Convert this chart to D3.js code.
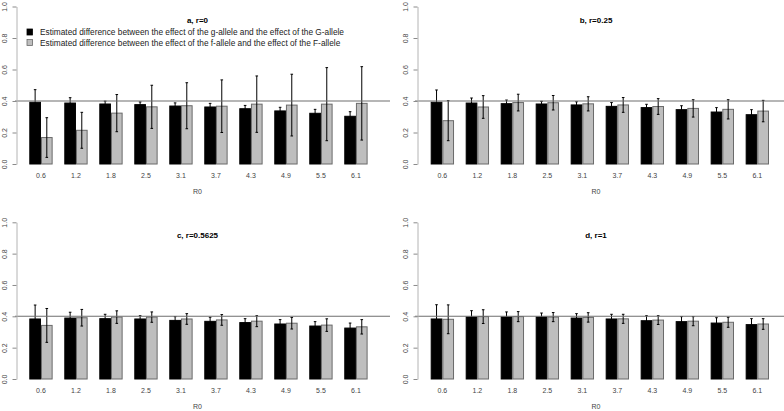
<!DOCTYPE html>
<html>
<head>
<meta charset="utf-8">
<script src="https://cdn.jsdelivr.net/npm/d3@7"></script>
<style>
  html, body { margin: 0; padding: 0; background: #fff; }
  svg { display: block; font-family: "Liberation Sans", Arial, sans-serif; }
</style>
</head>
<body>
<svg id="chart" width="784" height="411"></svg>
<script>
// ---------------- data ----------------
const categories = ["0.6","1.2","1.8","2.5","3.1","3.7","4.3","4.9","5.5","6.1"];
const seriesKeys = ["g", "f"];
const legendLabels = [
  "Estimated difference between the effect of the g-allele and the effect of the G-allele",
  "Estimated difference between the effect of the f-allele and the effect of the F-allele"
];
const yTicks = [0, 0.2, 0.4, 0.6, 0.8, 1.0];
const refValue = 0.4;
const panelTitles = ["a, r=0", "b, r=0.25", "c, r=0.5625", "d, r=1"];
const xTitle = "R0";

// panel a
const gA    = [0.392,0.387,0.381,0.377,0.368,0.362,0.351,0.337,0.322,0.303];
const gAErr = [0.080,0.034,0.018,0.017,0.020,0.023,0.021,0.023,0.025,0.029];
const fA    = [0.168,0.214,0.323,0.363,0.370,0.367,0.380,0.374,0.380,0.385];
const fAErr = [0.126,0.114,0.118,0.137,0.146,0.167,0.179,0.196,0.232,0.233];
// panel b
const gB    = [0.392,0.387,0.383,0.381,0.375,0.366,0.358,0.345,0.330,0.313];
const gBErr = [0.078,0.032,0.023,0.017,0.020,0.024,0.021,0.025,0.028,0.032];
const fB    = [0.275,0.362,0.390,0.389,0.382,0.375,0.365,0.353,0.347,0.336];
const fBErr = [0.127,0.072,0.053,0.046,0.045,0.047,0.050,0.055,0.061,0.068];
// panel c
const gC    = [0.383,0.389,0.385,0.383,0.374,0.368,0.360,0.351,0.338,0.325];
const gCErr = [0.089,0.037,0.028,0.021,0.024,0.026,0.025,0.028,0.028,0.032];
const fC    = [0.342,0.391,0.395,0.395,0.383,0.377,0.369,0.356,0.344,0.333];
const fCErr = [0.108,0.053,0.040,0.033,0.034,0.034,0.035,0.037,0.040,0.046];
// panel d
const gD    = [0.383,0.396,0.396,0.396,0.389,0.383,0.372,0.366,0.357,0.347];
const gDErr = [0.091,0.040,0.032,0.025,0.028,0.030,0.032,0.032,0.034,0.038];
const fD    = [0.381,0.398,0.398,0.395,0.393,0.384,0.376,0.369,0.362,0.351];
const fDErr = [0.092,0.044,0.032,0.029,0.030,0.029,0.028,0.029,0.032,0.034];

const panelData = [
  { g: gA, gErr: gAErr, f: fA, fErr: fAErr },
  { g: gB, gErr: gBErr, f: fB, fErr: fBErr },
  { g: gC, gErr: gCErr, f: fC, fErr: fCErr },
  { g: gD, gErr: gDErr, f: fD, fErr: fDErr }
];

// ---------------- layout ----------------
const colLayout = [
  { barRange: [29.3, 367.6], axisX: 16.5, plotX: [15, 390], textX: 197.5 },
  { barRange: [430.7, 769.0], axisX: 417.5, plotX: [415, 784], textX: 596 }
];
const rowLayout = [
  { yRange: [164, 6.5], titleY: 20, tickY: 175.5, xTitleY: 191.7 },
  { yRange: [379, 222.3], titleY: 235, tickY: 390.5, xTitleY: 406.7 }
];
const fillColor = { g: "#000000", f: "#bebebe" };
const strokeColor = { g: "#000000", f: "#6a6a6a" };

const svg = d3.select("#chart");

panelData.forEach((pd, i) => {
  const col = colLayout[i % 2], row = rowLayout[Math.floor(i / 2)];
  const x0 = d3.scaleBand().domain(categories).range(col.barRange)
    .paddingInner(1 / 3).paddingOuter(0);
  const x1 = d3.scaleBand().domain(seriesKeys).range([0, x0.bandwidth()]);
  const y = d3.scaleLinear().domain([0, 1]).range(row.yRange);
  const g = svg.append("g");

  const rows = categories.map((c, k) => ({
    cat: c,
    vals: [
      { key: "g", v: pd.g[k], e: pd.gErr[k] },
      { key: "f", v: pd.f[k], e: pd.fErr[k] }
    ]
  }));

  // bars
  const grp = g.selectAll("g.grp").data(rows).enter().append("g")
    .attr("transform", d => `translate(${x0(d.cat)},0)`);
  grp.selectAll("rect").data(d => d.vals).enter().append("rect")
    .attr("x", d => x1(d.key) + 0.5)
    .attr("width", x1.bandwidth() - 1)
    .attr("y", d => y(d.v))
    .attr("height", d => y(0) - y(d.v))
    .attr("fill", d => fillColor[d.key])
    .attr("stroke", d => strokeColor[d.key])
    .attr("stroke-width", 1);

  // reference line
  g.append("line")
    .attr("x1", col.plotX[0]).attr("x2", col.plotX[1])
    .attr("y1", y(refValue)).attr("y2", y(refValue))
    .attr("stroke", "#6e6e6e").attr("stroke-width", 1.1);

  // error bars
  const eb = grp.selectAll("g.eb").data(d => d.vals).enter().append("g")
    .attr("stroke", "#000").attr("stroke-width", 1);
  const cx = d => x1(d.key) + x1.bandwidth() / 2;
  eb.append("line")
    .attr("x1", cx).attr("x2", cx)
    .attr("y1", d => y(d.v - d.e)).attr("y2", d => y(d.v + d.e));
  eb.append("line")
    .attr("x1", d => cx(d) - 1.3).attr("x2", d => cx(d) + 1.3)
    .attr("y1", d => y(d.v + d.e)).attr("y2", d => y(d.v + d.e));
  eb.append("line")
    .attr("x1", d => cx(d) - 1.3).attr("x2", d => cx(d) + 1.3)
    .attr("y1", d => y(d.v - d.e)).attr("y2", d => y(d.v - d.e));

  // y axis
  const ya = g.append("g")
    .attr("transform", `translate(${col.axisX},0)`)
    .call(d3.axisLeft(y).tickValues(yTicks).tickFormat(d3.format(".1f")).tickSize(4).tickSizeOuter(0));
  ya.select(".domain").attr("stroke", "#b4b4b4");
  ya.selectAll(".tick line").attr("stroke", "#8a8a8a");
  ya.selectAll(".tick text")
    .attr("x", null).attr("dy", null)
    .attr("transform", "translate(-12,0) rotate(-90)")
    .attr("text-anchor", "middle")
    .attr("dominant-baseline", "central")
    .attr("fill", "#444")
    .style("font-size", "7px")
    .style("font-family", "'Liberation Sans', Arial, sans-serif");

  // x axis (category labels only)
  const xa = g.append("g")
    .attr("transform", `translate(0,${row.tickY})`)
    .call(d3.axisBottom(x0).tickSize(0).tickPadding(0));
  xa.select(".domain").remove();
  xa.selectAll(".tick text")
    .attr("y", 0).attr("dy", null)
    .attr("dominant-baseline", "central")
    .attr("fill", "#444")
    .style("font-size", "7px")
    .style("font-family", "'Liberation Sans', Arial, sans-serif");

  // x title
  g.append("text")
    .attr("x", col.textX).attr("y", row.xTitleY)
    .attr("text-anchor", "middle").attr("dominant-baseline", "central")
    .attr("fill", "#444").style("font-size", "7px")
    .text(xTitle);

  // panel title
  g.append("text")
    .attr("x", col.textX).attr("y", row.titleY)
    .attr("text-anchor", "middle").attr("dominant-baseline", "central")
    .attr("fill", "#000").style("font-size", "8px").style("font-weight", "bold")
    .text(panelTitles[i]);

  // legend in panel a
  if (i === 0) {
    const lg = g.append("g");
    const items = lg.selectAll("g").data(seriesKeys).enter().append("g")
      .attr("transform", (d, k) => `translate(27,${32 + k * 10.5})`);
    items.append("rect")
      .attr("x", 0).attr("y", -3).attr("width", 5.5).attr("height", 6)
      .attr("fill", d => fillColor[d])
      .attr("stroke", d => strokeColor[d]).attr("stroke-width", 0.8);
    items.append("text")
      .attr("x", 13).attr("y", 0)
      .attr("dominant-baseline", "central")
      .attr("fill", "#222").style("font-size", "8.3px")
      .text((d, k) => legendLabels[k]);
  }
});
</script>
</body>
</html>
